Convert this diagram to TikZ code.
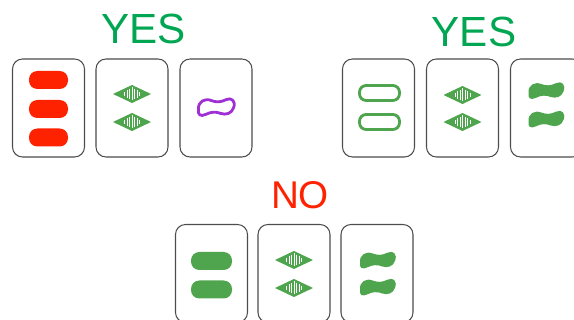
\documentclass[tikz,border=0pt]{standalone}
\usepackage{fontspec}
\setmainfont{Liberation Sans}
\usepackage{tikz}
\usepackage{color}
\definecolor{setred}{RGB}{255,34,0}
\definecolor{setgreen}{RGB}{78,165,78}
\definecolor{setpurple}{RGB}{158,48,214}
\definecolor{yesgreen}{RGB}{0,166,81}

\begin{document}
\begin{tikzpicture}[x=0.03cm,y=-0.03cm,
	card/.style={draw=black!70,line width=0.9pt,rounded corners=0.3cm,minimum width=2.16cm,minimum height=2.94cm,inner sep=0pt},
	pill/.style={rounded corners=0.25cm},
	word/.style={inner sep=0pt}]
		\path[use as bounding box,clip] (0,0) rectangle (574,320);
		\node[word,text=yesgreen,font=\fontsize{36}{36}\selectfont] (yesleft) at (143.5,29) {YES};
		\node[word,text=yesgreen,font=\fontsize{36}{36}\selectfont] (yesright) at (474,32) {YES};
		\node[word,text=setred,font=\fontsize{33}{33}\selectfont] (no) at (300,195) {NO};
		\node[card] (left1) at (48.5,108) {};
		\node[card] (left2) at (132,108) {};
		\node[card] (left3) at (216,108) {};
		\node[card] (right1) at (378.5,108) {};
		\node[card] (right2) at (462.5,108) {};
		\node[card] (right3) at (546.5,108) {};
		\node[card] (bottom1) at (211.5,273.5) {};
		\node[card] (bottom2) at (294,273.5) {};
		\node[card] (bottom3) at (377,273.5) {};
		% ovals
		\foreach \y in {80,109,137.5}
			\fill[setred,pill] (29,\y-9) rectangle (68,\y+9);
		\foreach \y in {93,122}
			\draw[setgreen,line width=2.4pt,rounded corners=0.2cm] (359.5,\y-7.5) rectangle (399.5,\y+7.5);
		\foreach \y in {261,289.5}
			\fill[setgreen,pill] (191,\y-9) rectangle (232,\y+9);
		% striped diamonds
		\foreach \x/\y in {132/94,132/122,462.5/95,462.5/122,294/260,294/288}{
			\fill[setgreen] (\x-19,\y) -- (\x,\y-9) -- (\x+19,\y) -- (\x,\y+9) -- cycle;
			\foreach \d/\h in {0/6.5,2.5/5.2,5/3.8,7.5/1.8}
				\draw[white,line width=0.55pt] (\x-\d,\y-\h) -- (\x-\d,\y+\h) (\x+\d,\y-\h) -- (\x+\d,\y+\h);
		}
		% squiggles
		\draw[setpurple,line width=2.4pt,line join=round,shift={(216,107)},scale=0.92] (-19,3) .. controls (-20,-6) and (-12,-10) .. (-5,-7)
			.. controls (0,-5) and (5,-5) .. (11,-8)
			.. controls (17,-11) and (22,-6) .. (19,1)
			.. controls (17,7) and (11,9) .. (5,7)
			.. controls (0,5) and (-5,5) .. (-11,8)
			.. controls (-17,11) and (-20,8) .. (-19,3) -- cycle;
		\foreach \x/\y in {546/90.5,546/119,377.5/260,377.5/287}
			\fill[setgreen,shift={(\x,\y)},scale=0.92] (-19,3) .. controls (-20,-6) and (-12,-10) .. (-5,-7)
			.. controls (0,-5) and (5,-5) .. (11,-8)
			.. controls (17,-11) and (22,-6) .. (19,1)
			.. controls (17,7) and (11,9) .. (5,7)
			.. controls (0,5) and (-5,5) .. (-11,8)
			.. controls (-17,11) and (-20,8) .. (-19,3) -- cycle;
		\end{tikzpicture}
\end{document}
